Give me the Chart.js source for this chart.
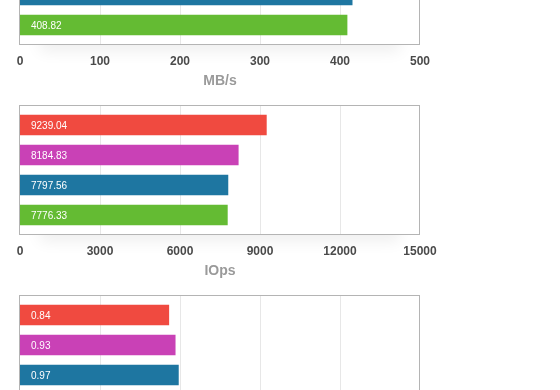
<!DOCTYPE html>
<html>
<head>
<meta charset="utf-8">
<script src="https://cdn.jsdelivr.net/npm/chart.js@4/dist/chart.umd.min.js"></script>
<style>
    html, body { margin: 0; padding: 0; background: #fff; overflow: hidden; }
    #wrap { position: relative; width: 560px; height: 390px; overflow: hidden; }
    .block { position: absolute; left: 0; width: 440px; height: 190px; }
</style>
</head>
<body>
<div id="wrap">
    <div class="block" style="top:-95px"><canvas id="chart-mbs"></canvas></div>
    <div class="block" style="top:95px"><canvas id="chart-iops"></canvas></div>
    <div class="block" style="top:285px"><canvas id="chart-lat"></canvas></div>
</div>
<script>
"use strict";

const runs = ["A", "B", "C", "D"];
const barColors = ["#f04a40", "#c941b6", "#1e76a1", "#64bb33"];

// throughput chart: top of it is cut off, first two bars are guesses
const mbsValues = [452.1, 431.7, 415.2, 408.82];
const mbsTicks = [0, 100, 200, 300, 400, 500];

const iopsValues = [9239.04, 8184.83, 7797.56, 7776.33];
const iopsTicks = [0, 3000, 6000, 9000, 12000, 15000];

// latency chart: bar lengths, printed labels as shown
const latValues = [0.93, 0.97, 0.99, 0.84];
const latLabels = ["0.84", "0.93", "0.97", "0.99"];
const latTicks = [0, 0.5, 1, 1.5, 2, 2.5];

const frameColor = "#b4b4b4";
const gridColor = "#e7e7e7";
const fontFamily = "'Liberation Sans', Helvetica, Arial, sans-serif";

const framePlugin = {
    id: "frame",
    beforeDraw(chart)
    {
        const a = chart.chartArea;
        const ctx = chart.ctx;
        const top = a.top - 5;
        const bottom = a.bottom + 4;

        ctx.save();
        ctx.shadowColor = "rgba(0,0,0,0.07)";
        ctx.shadowBlur = 16;
        ctx.shadowOffsetY = 7;
        ctx.fillStyle = "#fff";
        ctx.fillRect(a.left + 20, bottom - 20, a.right - a.left - 40, 20);
        ctx.restore();

        ctx.save();
        ctx.fillStyle = "#fff";
        ctx.fillRect(a.left, top, a.right - a.left, bottom - top);

        const xScale = chart.scales.x;
        ctx.strokeStyle = gridColor;
        ctx.lineWidth = 1;
        xScale.ticks.forEach((t, i) => {
            if (i === 0 || i === xScale.ticks.length - 1)
                return;
            const px = Math.round(xScale.getPixelForValue(t.value)) + 0.5;
            ctx.beginPath();
            ctx.moveTo(px, top);
            ctx.lineTo(px, bottom);
            ctx.stroke();
        });

        ctx.strokeStyle = frameColor;
        ctx.strokeRect(a.left - 0.5, top + 0.5, a.right - a.left, bottom - top);
        ctx.restore();
    },
    afterDatasetsDraw(chart, args, opts)
    {
        const ctx = chart.ctx;
        const meta = chart.getDatasetMeta(0);
        const texts = opts.texts;

        ctx.save();
        ctx.fillStyle = "#fff";
        ctx.font = "10px " + fontFamily;
        ctx.textBaseline = "middle";
        ctx.textAlign = "left";
        meta.data.forEach((bar, i) => {
            ctx.fillText(texts[i], chart.chartArea.left + 11, bar.y + 1);
        });
        ctx.restore();
    }
};

function buildChart(canvasId, values, texts, ticks, title)
{
    return new Chart(document.getElementById(canvasId), {
        type: "bar",
        data: {
            labels: runs,
            datasets: [{
                data: values,
                backgroundColor: barColors,
                barThickness: 20
            }]
        },
        options: {
            indexAxis: "y",
            responsive: false,
            animation: false,
            devicePixelRatio: 1,
            layout: {
                padding: {left: 20, right: 20, top: 15, bottom: 0}
            },
            plugins: {
                legend: {display: false},
                tooltip: {enabled: false},
                frame: {texts: texts}
            },
            scales: {
                y: {display: false},
                x: {
                    min: ticks[0],
                    max: ticks[ticks.length - 1],
                    afterBuildTicks(scale) {
                        scale.ticks = ticks.map(v => ({value: v}));
                    },
                    afterFit(scale) {
                        scale.height = 55;
                        scale.paddingLeft = 0;
                        scale.paddingRight = 0;
                    },
                    grid: {display: false},
                    border: {display: false},
                    ticks: {
                        color: "#4a4a4a",
                        padding: 6,
                        maxRotation: 0,
                        autoSkip: false,
                        callback: v => String(v),
                        font: {family: fontFamily, size: 12, weight: "bold"}
                    },
                    title: {
                        display: true,
                        text: title,
                        color: "#9a9a9a",
                        padding: {top: 0, bottom: 5},
                        font: {family: fontFamily, size: 14, weight: "bold"}
                    }
                }
            }
        },
        plugins: [framePlugin]
    });
}

function setupCanvas(id)
{
    const c = document.getElementById(id);
    c.width = 440;
    c.height = 190;
    c.style.width = "440px";
    c.style.height = "190px";
}

["chart-mbs", "chart-iops", "chart-lat"].forEach(setupCanvas);

buildChart("chart-mbs", mbsValues, mbsValues.map(v => v.toFixed(2)), mbsTicks, "MB/s");
buildChart("chart-iops", iopsValues, iopsValues.map(v => v.toFixed(2)), iopsTicks, "IOps");
buildChart("chart-lat", latValues, latLabels, latTicks, "ms");
</script>
</body>
</html>
